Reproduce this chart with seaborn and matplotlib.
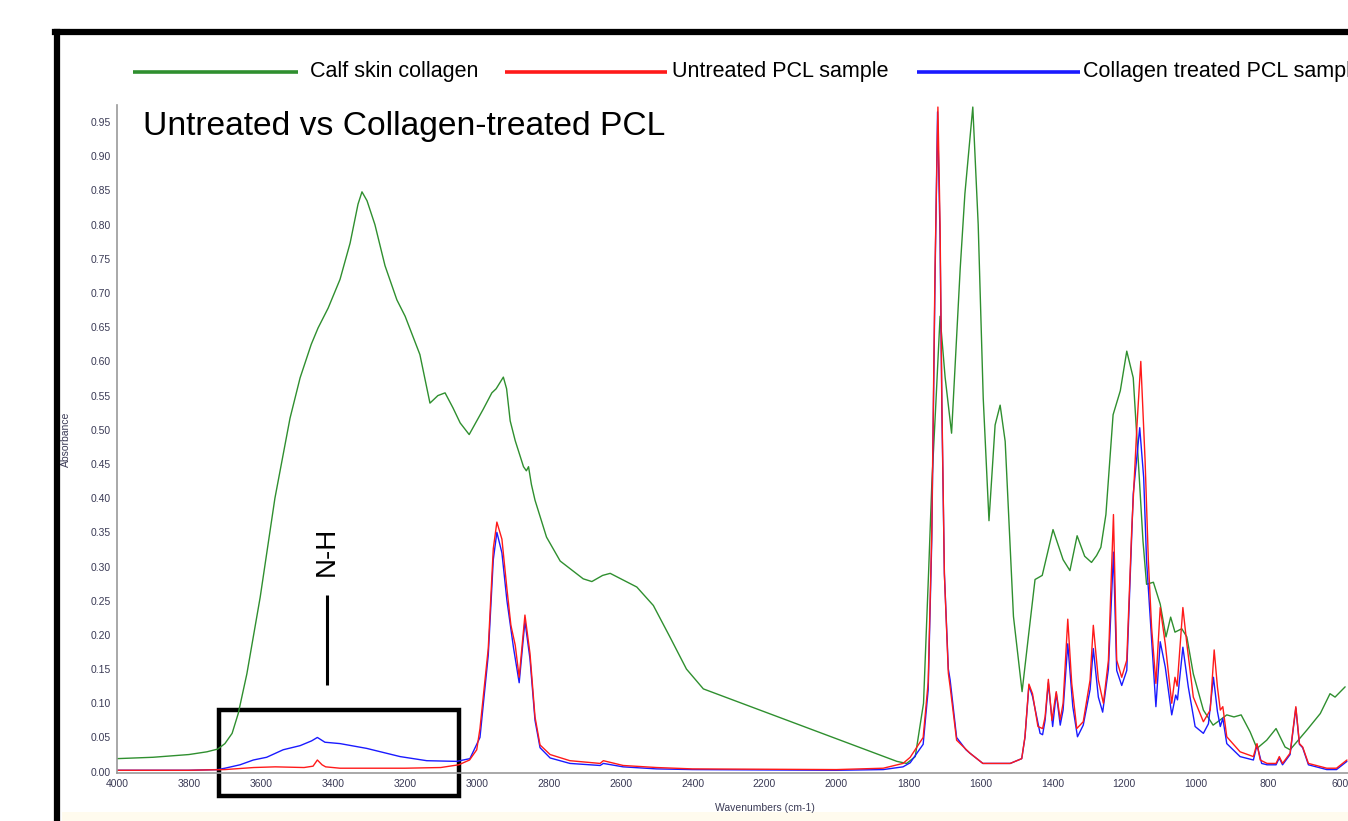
import numpy as np
import pandas as pd
import matplotlib
matplotlib.use('Agg')
import matplotlib.pyplot as plt
import seaborn as sns
from matplotlib.lines import Line2D
from matplotlib.patches import Rectangle
from matplotlib.ticker import MultipleLocator, FormatStrFormatter

# Calf skin collagen spectrum (wavenumber cm-1, absorbance)
collagen_wn = [4000, 3900, 3800, 3750, 3720, 3700, 3680, 3663, 3639, 3602, 3561, 3519, 3491, 3460,
               3441, 3413, 3380, 3352, 3330, 3319, 3305, 3283, 3255, 3222, 3199, 3158, 3130, 3108,
               3088, 3066, 3046, 3021, 2982, 2958, 2946, 2926, 2917, 2907, 2893, 2870, 2862, 2856,
               2848, 2838, 2806, 2768, 2704, 2680, 2650, 2629, 2555, 2509, 2463, 2417, 2370, 1832,
               1805, 1781, 1758, 1744, 1735, 1723, 1712, 1698, 1680, 1656, 1643, 1621, 1606, 1592,
               1576, 1559, 1545, 1531, 1508, 1484, 1467, 1448, 1428, 1398, 1370, 1351, 1331, 1310,
               1291, 1277, 1265, 1251, 1231, 1211, 1193, 1175, 1161, 1148, 1138, 1119, 1100, 1084,
               1071, 1059, 1040, 1026, 1008, 980, 953, 935, 915, 895, 875, 850, 831, 804, 778, 753,
               739, 692, 655, 628, 614, 586]
collagen_abs = [0.019, 0.021, 0.025, 0.029, 0.033, 0.041, 0.056, 0.085, 0.143, 0.255, 0.400, 0.517, 0.576, 0.625,
                0.649, 0.678, 0.720, 0.773, 0.830, 0.848, 0.835, 0.800, 0.740, 0.690, 0.666, 0.610, 0.539, 0.550,
                0.554, 0.532, 0.510, 0.493, 0.530, 0.554, 0.560, 0.577, 0.560, 0.513, 0.484, 0.446, 0.440, 0.446,
                0.420, 0.397, 0.343, 0.308, 0.282, 0.278, 0.287, 0.290, 0.270, 0.243, 0.197, 0.150, 0.121, 0.015,
                0.012, 0.022, 0.100, 0.290, 0.420, 0.546, 0.666, 0.577, 0.495, 0.736, 0.845, 0.972, 0.800, 0.546,
                0.367, 0.507, 0.536, 0.483, 0.227, 0.117, 0.195, 0.281, 0.287, 0.354, 0.310, 0.294, 0.345, 0.315,
                0.306, 0.316, 0.328, 0.376, 0.522, 0.557, 0.615, 0.576, 0.455, 0.338, 0.274, 0.277, 0.245, 0.197,
                0.226, 0.204, 0.209, 0.197, 0.143, 0.090, 0.068, 0.075, 0.083, 0.080, 0.083, 0.058, 0.034, 0.046, 0.063, 0.036,
                0.032, 0.061, 0.085, 0.114, 0.109, 0.124]

# Untreated PCL sample
untreated_wn = [4000, 3900, 3800, 3700, 3620, 3560, 3480, 3455, 3443, 3430, 3420, 3380, 3200, 3100,
                3050, 3020, 3000, 2991, 2968, 2954, 2944, 2930, 2916, 2905, 2893, 2882, 2866, 2852,
                2838, 2824, 2796, 2741, 2657, 2648, 2593, 2500, 2400, 2000, 1870, 1815, 1795, 1759,
                1745, 1735, 1726, 1718, 1712, 1707, 1700, 1689, 1684, 1666, 1629, 1593, 1517, 1485,
                1476, 1465, 1455, 1440, 1427, 1420, 1411, 1401, 1389, 1378, 1370, 1357, 1346, 1332,
                1314, 1295, 1286, 1272, 1258, 1244, 1230, 1221, 1207, 1193, 1179, 1165, 1154, 1142,
                1133, 1124, 1112, 1100, 1086, 1068, 1059, 1053, 1037, 1026, 1008, 980, 961, 950, 941,
                933, 926, 915, 878, 841, 831, 822, 803, 778, 769, 760, 739, 723, 713, 704, 688, 637,
                610, 581]
untreated_abs = [0.002, 0.002, 0.002, 0.003, 0.006, 0.007, 0.006, 0.008, 0.017, 0.010, 0.007, 0.005, 0.005, 0.006,
                 0.010, 0.017, 0.032, 0.063, 0.180, 0.326, 0.365, 0.340, 0.267, 0.214, 0.185, 0.138, 0.229, 0.173,
                 0.080, 0.039, 0.025, 0.016, 0.012, 0.016, 0.009, 0.006, 0.004, 0.003, 0.005, 0.012, 0.021, 0.050,
                 0.131, 0.352, 0.736, 0.972, 0.800, 0.543, 0.289, 0.144, 0.124, 0.046, 0.027, 0.012, 0.012, 0.019,
                 0.051, 0.128, 0.114, 0.066, 0.063, 0.080, 0.135, 0.075, 0.117, 0.076, 0.100, 0.223, 0.129, 0.063,
                 0.073, 0.134, 0.214, 0.134, 0.100, 0.163, 0.376, 0.163, 0.138, 0.163, 0.357, 0.503, 0.600, 0.454,
                 0.309, 0.211, 0.129, 0.240, 0.187, 0.100, 0.138, 0.125, 0.240, 0.187, 0.109, 0.073, 0.090, 0.178, 0.124,
                 0.090, 0.095, 0.051, 0.029, 0.022, 0.041, 0.017, 0.012, 0.012, 0.022, 0.012, 0.027, 0.095, 0.041, 0.036, 0.012, 0.005,
                 0.005, 0.017]

# Collagen treated PCL sample
treated_wn = [4000, 3800, 3720, 3700, 3658, 3621, 3584, 3538, 3491, 3459, 3443, 3422, 3380, 3306,
              3213, 3139, 3056, 3019, 2991, 2968, 2954, 2944, 2930, 2916, 2898, 2882, 2866, 2852,
              2838, 2824, 2796, 2741, 2657, 2648, 2593, 2500, 2400, 2000, 1870, 1815, 1795, 1759,
              1745, 1735, 1726, 1719, 1712, 1707, 1700, 1689, 1684, 1666, 1640, 1629, 1593, 1517,
              1485, 1476, 1465, 1455, 1434, 1427, 1420, 1411, 1399, 1389, 1378, 1370, 1357, 1343,
              1330, 1314, 1295, 1286, 1272, 1260, 1244, 1230, 1221, 1207, 1193, 1175, 1157, 1146,
              1138, 1112, 1100, 1086, 1068, 1057, 1052, 1037, 1022, 1003, 980, 966, 952, 941, 933,
              926, 915, 878, 841, 831, 818, 803, 778, 769, 760, 739, 723, 713, 704, 688, 637, 610, 581]
treated_abs = [0.002, 0.002, 0.003, 0.005, 0.010, 0.017, 0.021, 0.032, 0.038, 0.045, 0.050, 0.043, 0.041, 0.034,
               0.022, 0.016, 0.015, 0.019, 0.050, 0.170, 0.310, 0.350, 0.320, 0.250, 0.182, 0.130, 0.220, 0.165,
               0.075, 0.035, 0.020, 0.012, 0.009, 0.012, 0.007, 0.004, 0.003, 0.002, 0.003, 0.007, 0.013, 0.040,
               0.120, 0.340, 0.720, 0.965, 0.780, 0.530, 0.290, 0.150, 0.134, 0.050, 0.032, 0.027, 0.012, 0.012,
               0.019, 0.050, 0.126, 0.110, 0.056, 0.054, 0.075, 0.130, 0.066, 0.115, 0.068, 0.090, 0.187, 0.095,
               0.051, 0.068, 0.120, 0.180, 0.109, 0.087, 0.150, 0.321, 0.148, 0.126, 0.148, 0.406, 0.503, 0.430,
               0.309, 0.095, 0.190, 0.153, 0.083, 0.112, 0.105, 0.182, 0.124, 0.066, 0.056, 0.070, 0.138, 0.088, 0.066,
               0.078, 0.041, 0.022, 0.017, 0.039, 0.012, 0.010, 0.010, 0.020, 0.010, 0.025, 0.093, 0.040, 0.035, 0.010, 0.003, 0.003, 0.015]

series_names = ['Calf skin collagen', 'Untreated PCL sample', 'Collagen treated PCL sample']
series_colors = {'Calf skin collagen': '#2f8f2f',
                 'Untreated PCL sample': '#ff1a1a',
                 'Collagen treated PCL sample': '#1a1aff'}

df = pd.concat([
    pd.DataFrame({'wn': collagen_wn, 'abs': collagen_abs, 'sample': series_names[0]}),
    pd.DataFrame({'wn': treated_wn, 'abs': treated_abs, 'sample': series_names[2]}),
    pd.DataFrame({'wn': untreated_wn, 'abs': untreated_abs, 'sample': series_names[1]}),
])

sns.set_style('white')
plt.rcParams['font.family'] = ['Liberation Sans', 'DejaVu Sans']

fig = plt.figure(figsize=(13.48, 8.21), dpi=100)

# faint strip along the bottom edge (behind everything)
fig.patches.append(Rectangle((62 / 1348, 0), 1, 9 / 821, transform=fig.transFigure,
                             facecolor='#fffbee', edgecolor='none', zorder=-5))

ax = fig.add_axes([117 / 1348, 48 / 821, 1 - 117 / 1348, 668 / 821])
ax.patch.set_alpha(0)

# draw order: collagen, treated, untreated on top
for name in [series_names[0], series_names[2], series_names[1]]:
    sub = df[df['sample'] == name]
    sns.lineplot(data=sub, x='wn', y='abs', sort=False, estimator=None,
                 color=series_colors[name], linewidth=1.0, ax=ax, legend=False)

ax.set_xlim(4000, 578)
ax.set_ylim(-0.002, 0.975)

ax.xaxis.set_major_locator(MultipleLocator(200))
ax.xaxis.set_minor_locator(MultipleLocator(50))
ax.yaxis.set_major_locator(MultipleLocator(0.05))
ax.yaxis.set_minor_locator(MultipleLocator(0.01))
ax.yaxis.set_major_formatter(FormatStrFormatter('%.2f'))
ax.xaxis.set_major_formatter(FormatStrFormatter('%d'))

ax.tick_params(axis='both', which='major', labelsize=7.5, labelcolor='#3a3a55',
               direction='inout', length=5, width=0.8, color='#555555', pad=2)
ax.tick_params(axis='both', which='minor', direction='inout', length=3, width=0.6, color='#555555')

for s in ['top', 'right']:
    ax.spines[s].set_visible(False)
for s in ['left', 'bottom']:
    ax.spines[s].set_color('#999999')
    ax.spines[s].set_linewidth(1.2)

ax.set_xlabel('Wavenumbers (cm-1)', fontsize=7.5, color='#3a3a55')
ax.set_ylabel('Absorbance', fontsize=7.5, color='#3a3a55')
ax.xaxis.set_label_coords(0.526, -0.045)
ax.yaxis.set_label_coords(-0.037, 0.5)

# N-H annotation and highlight box
ax.plot([3416, 3416], [0.127, 0.259], color='black', linewidth=2.2, solid_capstyle='butt')
ax.text(3416, 0.322, 'N-H', rotation=90, ha='center', va='center', fontsize=20, color='black')
ax.add_patch(Rectangle((3049, -0.036), 667, 0.126, fill=False, edgecolor='black',
                       linewidth=3.2, clip_on=False))

# title
fig.text(143 / 1348, 1 - 127 / 821, 'Untreated vs Collagen-treated PCL', fontsize=24.2,
         ha='left', va='center', color='black')

# legend row along the top
leg_y = 1 - 72 / 821
legend_items = [(133, 298, 310, series_names[0]),
                (505, 667, 672, series_names[1]),
                (917, 1080, 1083, series_names[2])]
for x0, x1, xt, name in legend_items:
    fig.add_artist(Line2D([x0 / 1348, x1 / 1348], [leg_y, leg_y], color=series_colors[name],
                          linewidth=2.6, solid_capstyle='butt'))
    fig.text(xt / 1348, leg_y, name, fontsize=15.5, ha='left', va='center', color='black')

# outer frame
fig.add_artist(Line2D([55 / 1348, 1.0], [1 - 32 / 821, 1 - 32 / 821], color='black', linewidth=4.5,
                      solid_capstyle='projecting'))
fig.add_artist(Line2D([57 / 1348, 57 / 1348], [0.0, 1 - 32 / 821], color='black', linewidth=4.5,
                      solid_capstyle='projecting'))

fig.savefig('out.png', dpi=100, facecolor='white')
